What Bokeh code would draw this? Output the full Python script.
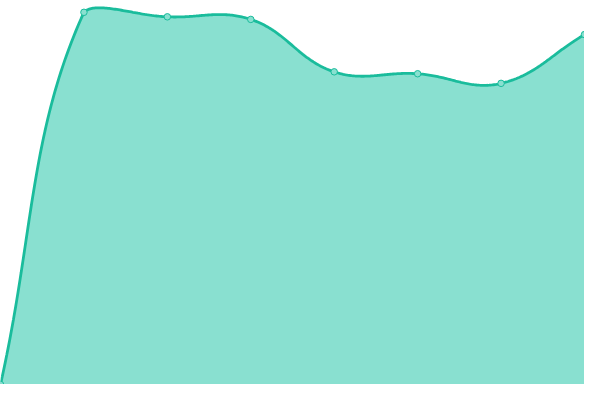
import numpy as np
from bokeh.plotting import figure
from bokeh.models import ColumnDataSource, Range1d
from bokeh.embed import file_html
from bokeh.resources import INLINE

# data
categories = ["A", "B", "C", "D", "E", "F", "G", "H"]
values = [0, 387.7, 383, 380.3, 325.7, 323.7, 313.7, 364.5]

Y_MIN, Y_MAX = 0, 400
LINE = "#1abc9c"
FILL = "#89e0d0"
TENSION = 0.4

n = len(values)
x = np.arange(n, dtype=float)
y = np.array(values, dtype=float)

# work in a reference pixel space (600x400, y down) to build the smooth curve
W, H = 600.0, 400.0
def to_px(xd, yd):
    return xd * W / (n - 1), H - (yd - Y_MIN) * H / (Y_MAX - Y_MIN)
def to_data(xp, yp):
    return xp * (n - 1) / W, Y_MIN + (H - yp) * (Y_MAX - Y_MIN) / H

PX, PY = to_px(x, y)
cp_prev, cp_next = [], []
for i in range(n):
    prv = (PX[max(i - 1, 0)], PY[max(i - 1, 0)])
    cur = (PX[i], PY[i])
    nxt = (PX[min(i + 1, n - 1)], PY[min(i + 1, n - 1)])
    d01 = np.hypot(cur[0] - prv[0], cur[1] - prv[1])
    d12 = np.hypot(nxt[0] - cur[0], nxt[1] - cur[1])
    s = d01 + d12
    s01 = d01 / s if s else 0.0
    s12 = d12 / s if s else 0.0
    fa, fb = TENSION * s01, TENSION * s12
    a = (cur[0] - fa * (nxt[0] - prv[0]), cur[1] - fa * (nxt[1] - prv[1]))
    b = (cur[0] + fb * (nxt[0] - prv[0]), cur[1] + fb * (nxt[1] - prv[1]))
    cap = lambda q: (min(max(q[0], 0), W), min(max(q[1], 0), H))
    cp_prev.append(cap(a))
    cp_next.append(cap(b))

t = np.linspace(0, 1, 60)[:, None]
segs = []
for i in range(n - 1):
    P0 = np.array([PX[i], PY[i]])
    P1 = np.array(cp_next[i])
    P2 = np.array(cp_prev[i + 1])
    P3 = np.array([PX[i + 1], PY[i + 1]])
    seg = ((1 - t) ** 3) * P0 + 3 * ((1 - t) ** 2) * t * P1 + 3 * (1 - t) * t * t * P2 + (t ** 3) * P3
    segs.append(seg if i == 0 else seg[1:])
curve = np.vstack(segs)
sx, sy = to_data(curve[:, 0], curve[:, 1])

p = figure(width=584, height=384, output_backend="svg", toolbar_location=None,
           x_range=Range1d(0, n - 1), y_range=Range1d(Y_MIN, Y_MAX),
           min_border=0)
p.axis.visible = False
p.grid.visible = False
p.outline_line_color = None
p.background_fill_color = "white"
p.border_fill_color = "white"

p.varea(x=sx, y1=np.full_like(sy, Y_MIN), y2=sy, fill_color=FILL, fill_alpha=1)
p.line(sx, sy, line_color=LINE, line_width=2.8)
src = ColumnDataSource(dict(x=x, y=y, cat=categories))
p.scatter("x", "y", source=src, size=6.5, fill_color=FILL, line_color=LINE, line_width=1)

open("out.html", "w").write(file_html(p, INLINE))
